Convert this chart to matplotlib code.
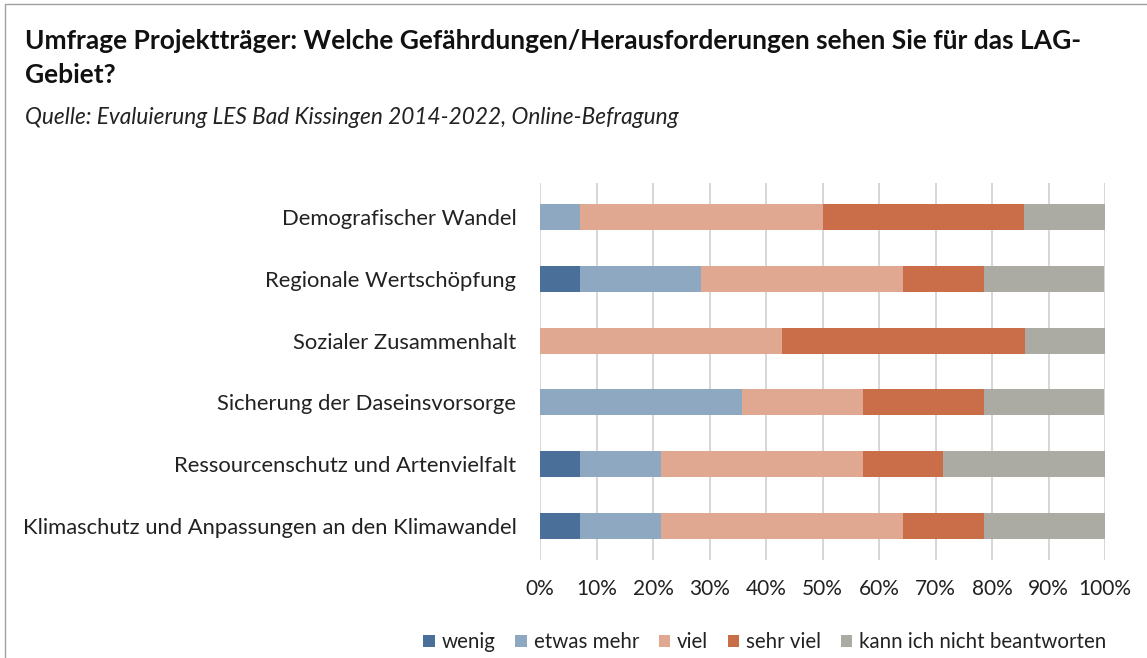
import matplotlib
matplotlib.use("Agg")
import matplotlib.pyplot as plt
from matplotlib.patches import Rectangle
import numpy as np

categories = [
    "Demografischer Wandel",
    "Regionale Wertschöpfung",
    "Sozialer Zusammenhalt",
    "Sicherung der Daseinsvorsorge",
    "Ressourcenschutz und Artenvielfalt",
    "Klimaschutz und Anpassungen an den Klimawandel",
]
series_names = ["wenig", "etwas mehr", "viel", "sehr viel", "kann ich nicht beantworten"]
wenig = [0.0, 7.1, 0.0, 0.0, 7.1, 7.1]
etwas_mehr = [7.1, 21.4, 0.0, 35.7, 14.3, 14.3]
viel = [42.9, 35.7, 42.9, 21.4, 35.7, 42.9]
sehr_viel = [35.7, 14.3, 42.9, 21.4, 14.3, 14.3]
kann_nicht = [14.3, 21.4, 14.3, 21.4, 28.6, 21.4]
colors = ["#4A6F98", "#8FA8C2", "#E0A890", "#C96E48", "#ABABA3"]
xticks = [0, 10, 20, 30, 40, 50, 60, 70, 80, 90, 100]

plt.rcParams['font.family'] = ['Lato', 'DejaVu Sans']

fig = plt.figure(figsize=(11.47, 6.58), dpi=100)
fig.patches.append(Rectangle((5/1147, -0.01), 1.2, 1 - 4/658 + 0.01, transform=fig.transFigure,
                             fill=False, edgecolor="#A0A0A0", linewidth=1.0))

ax = fig.add_axes([540/1147, 1 - 560/658, 565/1147, 377/658])
data = [wenig, etwas_mehr, viel, sehr_viel, kann_nicht]
y = np.arange(len(categories))
left = np.zeros(len(categories))
for name, vals, c in zip(series_names, data, colors):
    vals = np.array(vals)
    ax.barh(y, vals, left=left, height=0.42, color=c, label=name, zorder=2)
    left += vals

ax.set_xlim(0, 100)
ax.set_ylim(len(categories) - 0.45, -0.55)
ax.set_yticks(y)
ax.set_yticklabels(categories, fontsize=15.8, color="#222222")
ax.set_xticks(xticks)
ax.set_xticklabels([f"{t}%" for t in xticks], fontsize=15, color="#222222")
ax.tick_params(axis="both", length=0)
ax.tick_params(axis="y", pad=17)
ax.tick_params(axis="x", pad=14)
ax.xaxis.grid(True, color="#D0D0D0", linewidth=1.2, zorder=0)
ax.set_axisbelow(True)
for s in ax.spines.values():
    s.set_visible(False)

fig.text(25/1147, 1 - 41/658, "Umfrage Projektträger: Welche Gefährdungen/Herausforderungen sehen Sie für das LAG-",
         fontsize=19, fontweight="bold", color="#111111", va="center")
fig.text(25/1147, 1 - 75/658, "Gebiet?", fontsize=19, fontweight="bold", color="#111111", va="center")
fig.text(25/1147, 1 - 118/658, "Quelle: Evaluierung LES Bad Kissingen 2014-2022, Online-Befragung",
         fontsize=16.3, style="italic", color="#222222", va="center")

leg = fig.legend(loc="center", bbox_to_anchor=(765/1147, 1 - 642/658), ncol=5, frameon=False,
                 fontsize=14.8, handlelength=0.55, handleheight=0.55, handletextpad=0.35, columnspacing=0.95,
                 labelcolor="#222222")

fig.savefig("out.png", dpi=100)
